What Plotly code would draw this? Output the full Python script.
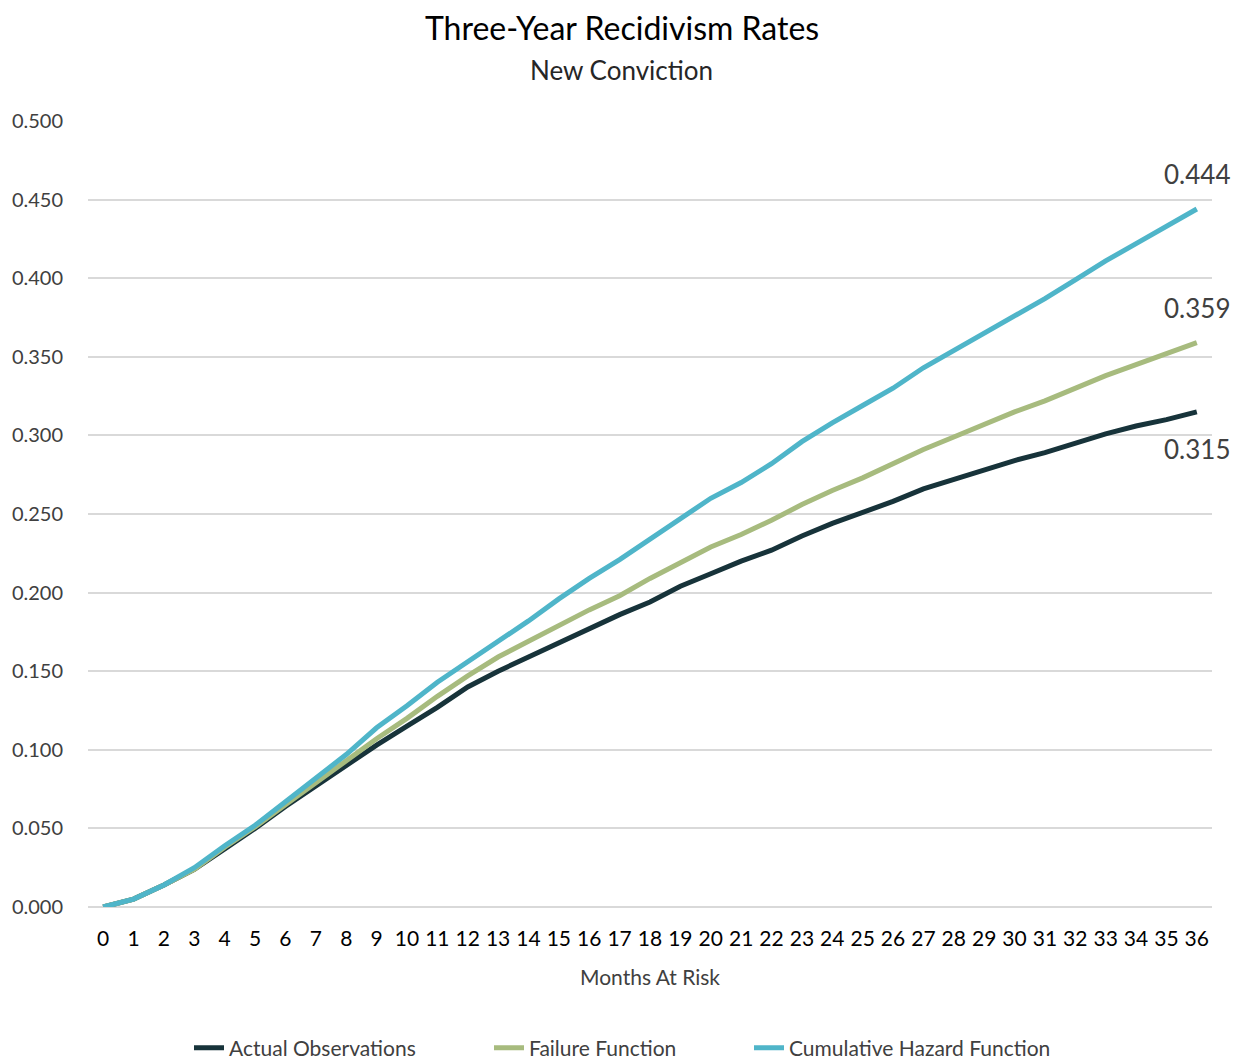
import plotly.graph_objects as go

# Months at risk (0-36) and cumulative recidivism rates for each series
months = list(range(37))
month_labels = [str(m) for m in months]

actual_observations = [
    0.000, 0.005, 0.014, 0.024, 0.037, 0.050, 0.064, 0.077, 0.090, 0.103,
    0.115, 0.127, 0.140, 0.150, 0.159, 0.168, 0.177, 0.186, 0.194, 0.204,
    0.212, 0.220, 0.227, 0.236, 0.244, 0.251, 0.258, 0.266, 0.272, 0.278,
    0.284, 0.289, 0.295, 0.301, 0.306, 0.310, 0.315,
]
failure_function = [
    0.000, 0.005, 0.014, 0.024, 0.038, 0.051, 0.065, 0.079, 0.093, 0.107,
    0.120, 0.134, 0.147, 0.159, 0.169, 0.179, 0.189, 0.198, 0.209, 0.219,
    0.229, 0.237, 0.246, 0.256, 0.265, 0.273, 0.282, 0.291, 0.299, 0.307,
    0.315, 0.322, 0.330, 0.338, 0.345, 0.352, 0.359,
]
cumulative_hazard = [
    0.000, 0.005, 0.014, 0.025, 0.039, 0.052, 0.067, 0.082, 0.097, 0.114,
    0.128, 0.143, 0.156, 0.169, 0.182, 0.196, 0.209, 0.221, 0.234, 0.247,
    0.260, 0.270, 0.282, 0.296, 0.308, 0.319, 0.330, 0.343, 0.354, 0.365,
    0.376, 0.387, 0.399, 0.411, 0.422, 0.433, 0.444,
]

y_ticks = [0.0, 0.05, 0.1, 0.15, 0.2, 0.25, 0.3, 0.35, 0.4, 0.45, 0.5]

FONT = "Lato, 'Open Sans', sans-serif"
W, H = 1243, 1059

# name, values, colour, label offset (px, positive = below), legend id, legend x (px)
series = [
    ("Actual Observations", actual_observations, "#17333a", 37, "legend", 189),
    ("Failure Function", failure_function, "#a7bb7e", -35, "legend2", 489),
    ("Cumulative Hazard Function", cumulative_hazard, "#4fb5c9", -35, "legend3", 749),
]

fig = go.Figure()
for name, values, color, _, leg, _ in series:
    fig.add_trace(go.Scatter(
        x=month_labels, y=values, name=name, mode="lines",
        line=dict(color=color, width=5), legend=leg,
    ))

# End-of-period value labels
for name, values, color, shift, _, _ in series:
    fig.add_annotation(
        x=month_labels[-1], y=values[-1], xref="x", yref="y",
        text=f"{values[-1]:.3f}", showarrow=False,
        yshift=-shift, font=dict(family=FONT, size=26, color="#404040"),
    )

# Title and subtitle, centered on the page
header_x = (W / 2 - 88) / 1124
fig.add_annotation(
    text="Three-Year Recidivism Rates", xref="paper", yref="paper",
    x=header_x, y=1 + (121 - 28) / 786, xanchor="center", yanchor="middle",
    showarrow=False, font=dict(family=FONT, size=32, color="#000000"),
)
fig.add_annotation(
    text="New Conviction", xref="paper", yref="paper",
    x=header_x, y=1 + (121 - 70) / 786, xanchor="center", yanchor="middle",
    showarrow=False, font=dict(family=FONT, size=26, color="#262626"),
)

legend_style = dict(
    orientation="h", xref="container", yref="container",
    y=(H - 1048) / H, yanchor="middle", xanchor="left",
    font=dict(family=FONT, size=21, color="#404040"),
    bgcolor="rgba(0,0,0,0)",
)
legends = {leg: dict(legend_style, x=lx / W) for _, _, _, _, leg, lx in series}

fig.update_layout(
    width=W, height=H,
    paper_bgcolor="white", plot_bgcolor="white",
    margin=dict(l=88, r=31, t=121, b=152, autoexpand=False),
    font=dict(family=FONT),
    showlegend=True,
    **legends,
    xaxis=dict(
        type="category", range=[-0.5, 36.5],
        tickvals=month_labels, ticktext=month_labels,
        showgrid=False, showline=False, zeroline=False,
        ticklabelstandoff=17,
        tickfont=dict(family=FONT, size=21, color="#000000"),
        title=dict(text="Months At Risk", standoff=21,
                   font=dict(family=FONT, size=21, color="#404040")),
    ),
    yaxis=dict(
        range=[0, 0.5], tickvals=y_ticks, tickformat=".3f",
        showgrid=True, gridcolor="#d9d9d9", gridwidth=1.5,
        zeroline=True, zerolinecolor="#d9d9d9", zerolinewidth=1.5,
        showline=False, ticklabelstandoff=24,
        tickfont=dict(family=FONT, size=20, color="#404040"),
    ),
)

fig.write_html("out.html")
